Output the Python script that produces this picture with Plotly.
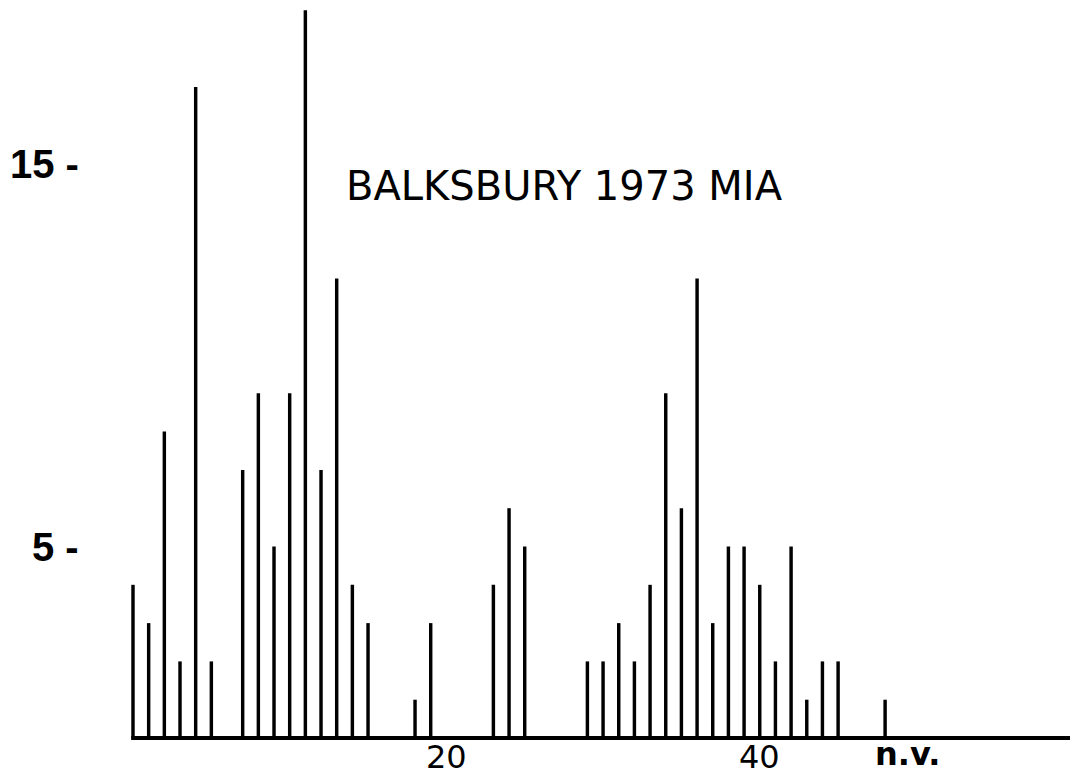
import plotly.graph_objects as go

# Frequency of each class value (0..45) plus the "n.v." (no value) count
classes = list(range(46))
counts = [4, 3, 8, 2, 17, 2, 0, 7, 9, 5, 9, 19, 7, 12, 4, 3, 0, 0, 1, 3,
          0, 0, 0, 4, 6, 5, 0, 0, 0, 2, 2, 3, 2, 4, 9, 6, 12, 3, 5, 5,
          4, 2, 5, 1, 2, 2]
nv_position = 48
nv_count = 1
nv_label = "n.v."

y_ticks = [15, 5]
x_ticks = [20, 40]
title_text = "BALKSBURY 1973 MIA"

fig = go.Figure()
fig.add_trace(go.Bar(
    x=classes + [nv_position],
    y=counts + [nv_count],
    width=0.22,
    marker=dict(color="black", line=dict(width=0)),
    hoverinfo="x+y",
))

# Baseline running from the first class out to the right edge
fig.add_shape(type="line", xref="x", yref="y",
              x0=-0.12, x1=60, y0=0, y1=0,
              line=dict(color="black", width=4))

annotations = []
for v in y_ticks:
    annotations.append(dict(
        x=-3.35, y=v, xref="x", yref="y", xanchor="right", yanchor="middle",
        text=f"{v} -", showarrow=False,
        font=dict(family="Liberation Sans", size=40, color="black", weight="bold"),
    ))
for v in x_ticks:
    annotations.append(dict(
        x=v, y=-0.50, xref="x", yref="y", xanchor="center", yanchor="middle",
        text=str(v), showarrow=False,
        font=dict(family="DejaVu Sans", size=32, color="black"),
    ))
annotations.append(dict(
    x=49.4, y=-0.42, xref="x", yref="y", xanchor="center", yanchor="middle",
    text=nv_label, showarrow=False,
    font=dict(family="DejaVu Sans", size=32, color="black", weight="bold"),
))
annotations.append(dict(
    x=27.57, y=14.40, xref="x", yref="y", xanchor="center", yanchor="middle",
    text=title_text, showarrow=False,
    font=dict(family="DejaVu Sans", size=40, color="black"),
))

fig.update_layout(
    width=1070, height=778,
    margin=dict(l=0, r=0, t=0, b=0),
    paper_bgcolor="white", plot_bgcolor="white",
    showlegend=False,
    xaxis=dict(range=[-8.488, 59.80], visible=False, fixedrange=True),
    yaxis=dict(range=[-1.044, 19.269], visible=False, fixedrange=True),
    annotations=annotations,
)

fig.write_html("out.html")
